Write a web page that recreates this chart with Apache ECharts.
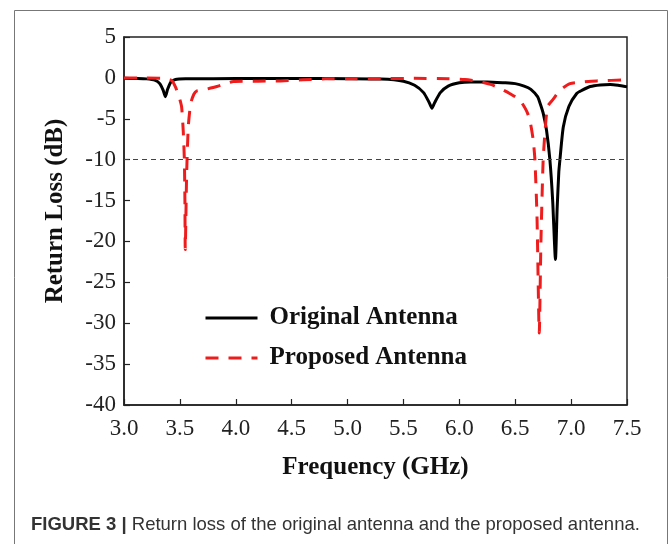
<!DOCTYPE html>
<html>
<head>
<meta charset="utf-8">
<script src="https://cdn.jsdelivr.net/npm/echarts@6/dist/echarts.min.js"></script>
<style>
  html, body { margin: 0; padding: 0; background: #fff; }
  #chart { width: 672px; height: 544px; }
</style>
</head>
<body>
<div id="chart"></div>
<script>
// Return loss (dB) versus frequency (GHz) for the two antennas
const originalFreq = [3.00, 3.10, 3.20, 3.28, 3.32, 3.35, 3.37, 3.39, 3.42, 3.46, 3.55, 3.80, 4.20, 4.60, 5.00, 5.30, 5.50, 5.60, 5.68, 5.73, 5.755, 5.78, 5.83, 5.90, 6.00, 6.10, 6.25, 6.40, 6.50, 6.58, 6.64, 6.70, 6.72, 6.75, 6.78, 6.81, 6.835, 6.86, 6.875, 6.89, 6.90, 6.93, 6.98, 7.05, 7.10, 7.17, 7.26, 7.35, 7.42, 7.50];
const originalLoss = [-0.05, -0.08, -0.12, -0.3, -0.7, -1.5, -2.3, -1.4, -0.5, -0.2, -0.12, -0.1, -0.08, -0.08, -0.1, -0.15, -0.4, -0.9, -1.8, -3.0, -3.7, -3.0, -1.8, -1.0, -0.6, -0.5, -0.5, -0.6, -0.7, -1.0, -1.4, -2.3, -3.0, -4.3, -6.4, -10, -15, -22.2, -16, -11.5, -10, -6.0, -3.5, -1.9, -1.5, -1.06, -0.86, -0.8, -0.9, -1.1];

const proposedFreq = [3.00, 3.20, 3.35, 3.40, 3.43, 3.46, 3.49, 3.515, 3.53, 3.54, 3.545, 3.548, 3.56, 3.575, 3.597, 3.625, 3.65, 3.70, 3.83, 3.98, 4.20, 4.40, 4.60, 4.80, 5.00, 5.30, 5.60, 5.90, 6.05, 6.18, 6.28, 6.36, 6.45, 6.54, 6.60, 6.63, 6.66, 6.676, 6.695, 6.715, 6.73, 6.75, 6.77, 6.79, 6.84, 6.90, 6.99, 7.10, 7.23, 7.50];
const proposedLoss = [0, 0, -0.05, -0.2, -0.35, -1.1, -2.2, -3.5, -6.5, -10, -15, -21, -12, -6, -3.1, -2.0, -1.6, -1.5, -1.06, -0.45, -0.4, -0.37, -0.24, -0.12, -0.1, -0.1, -0.05, -0.1, -0.2, -0.45, -0.8, -1.26, -1.9, -2.7, -4.0, -5.1, -7.5, -10, -17, -31.2, -20, -10, -6, -3.5, -2.6, -1.5, -0.7, -0.5, -0.37, -0.24];

const seriesNames = ['Original Antenna', 'Proposed Antenna'];
const threshold = -10;
const xTicks = { min: 3.0, max: 7.5, step: 0.5 };
const yTicks = { min: -40, max: 5, step: 5 };

const pair = (xs, ys) => xs.map((x, i) => [x, ys[i]]);

const serif = 'Liberation Serif';
const chart = echarts.init(document.getElementById('chart'), null, { renderer: 'canvas' });

chart.setOption({
  backgroundColor: '#fff',
  animation: false,
  title: {
    left: 26,
    top: 510,
    text: '{b|FIGURE 3 | }{r|Return loss of the original antenna and the proposed antenna.}',
    textStyle: {
      fontWeight: 'normal',
      rich: {
        b: { fontFamily: 'Liberation Sans', fontWeight: 'bold', fontSize: 18.5, color: '#333' },
        r: { fontFamily: 'Liberation Sans', fontWeight: 'normal', fontSize: 18.5, color: '#333' }
      }
    }
  },
  graphic: [{
    type: 'rect',
    silent: true,
    shape: { x: 14.5, y: 10.5, width: 653, height: 600 },
    style: { fill: 'none', stroke: '#777', lineWidth: 1 }
  }],
  legend: {
    orient: 'vertical',
    left: 199,
    top: 300,
    itemWidth: 52,
    itemHeight: 14,
    itemGap: 14,
    data: seriesNames,
    itemStyle: { opacity: 0 },
    lineStyle: { width: 3 },
    textStyle: {
      fontFamily: serif, fontWeight: 'bold', fontSize: 25, color: '#111',
      lineHeight: 26, padding: [0, 0, 0, 7]
    }
  },
  grid: {
    left: 124, right: 45, top: 37, bottom: 139,
    show: true, borderColor: '#222', borderWidth: 1.5, backgroundColor: 'transparent'
  },
  xAxis: {
    type: 'value',
    min: xTicks.min, max: xTicks.max, interval: xTicks.step,
    name: 'Frequency (GHz)',
    nameLocation: 'middle',
    nameGap: 50,
    nameTextStyle: { fontFamily: serif, fontWeight: 'bold', fontSize: 25, color: '#111' },
    axisLine: { onZero: false, lineStyle: { color: '#222', width: 1.5 } },
    axisTick: { inside: true, length: 6, lineStyle: { color: '#222', width: 1.2 } },
    axisLabel: {
      fontFamily: serif, fontSize: 23, color: '#222', margin: 12,
      formatter: v => v.toFixed(1)
    },
    splitLine: { show: false }
  },
  yAxis: {
    type: 'value',
    min: yTicks.min, max: yTicks.max, interval: yTicks.step,
    name: 'Return Loss (dB)',
    nameLocation: 'middle',
    nameGap: 56,
    nameTextStyle: { fontFamily: serif, fontWeight: 'bold', fontSize: 25, color: '#111', padding: [0, 0, 0, 20] },
    axisLine: { onZero: false, lineStyle: { color: '#222', width: 1.5 } },
    axisTick: { inside: true, length: 6, lineStyle: { color: '#222', width: 1.2 } },
    axisLabel: { fontFamily: serif, fontSize: 23, color: '#222', margin: 8 },
    splitLine: { show: false }
  },
  series: [
    {
      name: seriesNames[0],
      type: 'line',
      data: pair(originalFreq, originalLoss),
      showSymbol: false,
      symbol: 'none',
      smooth: 0.2,
      z: 3,
      lineStyle: { color: '#000', width: 3 },
      itemStyle: { color: '#000' },
      markLine: {
        silent: true,
        symbol: 'none',
        label: { show: false },
        lineStyle: { color: '#444', width: 1.2, type: [5, 4] },
        data: [{ yAxis: threshold }]
      }
    },
    {
      name: seriesNames[1],
      type: 'line',
      data: pair(proposedFreq, proposedLoss),
      showSymbol: false,
      symbol: 'none',
      smooth: 0.2,
      z: 4,
      lineStyle: { color: '#ee1c1c', width: 3, type: [13, 10] },
      itemStyle: { color: '#ee1c1c' }
    }
  ]
});
</script>
</body>
</html>
